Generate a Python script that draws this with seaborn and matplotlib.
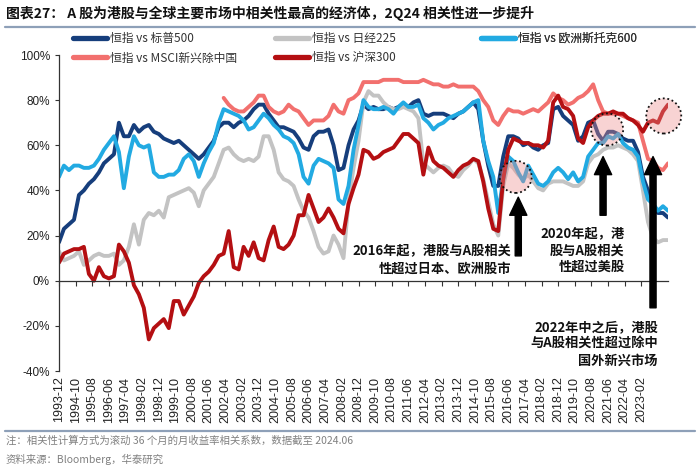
import pandas as pd
import matplotlib
matplotlib.use("Agg")
import matplotlib.pyplot as plt
import matplotlib.dates as mdates
import seaborn as sns
from matplotlib.patches import Ellipse
from matplotlib.lines import Line2D
from matplotlib.ticker import PercentFormatter, FixedLocator, FixedFormatter

# quarterly readings (%), 1993-12 .. 2024-06
dates = pd.date_range("1993-12-01", "2024-06-01", freq="3MS")

spx500 = [17, 23, 25, 27, 38, 40, 43, 45, 48, 52, 54, 56, 70, 64, 64, 69, 66, 68, 69, 66, 65, 63, 62, 61, 62, 60, 58, 56, 54, 56, 59, 62,
          68, 70, 70, 68, 70, 71, 73, 76, 78, 78, 74, 71, 68, 68, 67, 66, 63, 59, 58, 64, 66, 66, 67, 60, 49, 50, 60, 67, 71, 78, 76,
          77, 76, 76, 77, 76, 77, 78, 77, 79, 80, 74, 73, 74, 74, 74, 73, 72, 74, 75, 77, 79, 76, 62, 51, 42, 42, 55, 64, 64, 63, 60,
          61, 59, 58, 60, 61, 76, 77, 73, 71, 69, 62, 64, 70, 71, 65, 62, 66, 66, 65, 63, 62, 62, 57, 46, 40, 34, 30, 30, 28]
nikkei225 = [13, 9, 10, 11, 13, 7, 9, 11, 12, 11, 11, 12, 7, 9, 15, 25, 16, 27, 30, 29, 31, 28, 37, 38, 39, 40, 41, 39, 33, 40, 43, 46,
             52, 58, 59, 56, 54, 53, 54, 53, 55, 64, 64, 58, 48, 45, 44, 42, 36, 31, 28, 22, 15, 12, 13, 20, 16, 10, 35, 50, 62, 79, 84,
             82, 82, 79, 77, 76, 76, 77, 76, 75, 72, 52, 50, 48, 50, 51, 50, 47, 46, 49, 51, 54, 52, 45, 35, 25, 20, 42, 52, 50, 47, 45,
             47, 44, 41, 40, 43, 44, 44, 44, 43, 42, 42, 44, 52, 55, 56, 58, 59, 59, 60, 59, 58, 56, 53, 40, 26, 19, 17, 18, 18]
stoxx600 = [46, 51, 49, 51, 51, 50, 50, 51, 54, 58, 61, 64, 57, 41, 55, 64, 60, 59, 60, 48, 46, 46, 47, 47, 49, 54, 56, 53, 46, 52, 57, 61,
            70, 76, 75, 74, 73, 71, 67, 68, 71, 74, 72, 69, 67, 64, 63, 61, 56, 46, 43, 51, 54, 53, 52, 50, 36, 34, 42, 58, 69, 80, 77,
            76, 76, 77, 76, 74, 77, 79, 77, 77, 78, 72, 70, 67, 69, 70, 72, 73, 74, 75, 77, 79, 80, 62, 53, 46, 30, 45, 55, 53, 48, 44,
            51, 47, 43, 42, 44, 48, 50, 48, 45, 48, 44, 46, 55, 58, 61, 61, 64, 63, 65, 61, 59, 58, 55, 44, 36, 34, 31, 33, 31]
# MSCI EM ex China series starts 2002-03
msci_em_xc = [81, 78, 76, 75, 75, 77, 79, 82, 82, 77, 75, 74, 75, 78, 76, 75, 72, 69, 71, 71, 71, 73, 78, 75, 74, 80, 81, 83, 88, 88,
              88, 88, 89, 89, 89, 89, 88, 88, 88, 88, 89, 88, 87, 87, 86, 86, 87, 86, 86, 86, 86, 84, 80, 77, 71, 69, 73, 76, 75, 75, 74,
              75, 76, 75, 77, 79, 83, 81, 80, 78, 79, 81, 82, 84, 87, 80, 75, 74, 74, 74, 73, 72, 71, 70, 62, 54, 53, 50, 49, 52]
csi300 = [8, 12, 13, 14, 14, 15, 3, 0, 6, 2, 1, 2, 16, 13, 8, -2, -6, -12, -26, -21, -19, -17, -21, -9, -9, -15, -11, -7, -1, 2, 4, 7,
          11, 12, 22, 6, 5, 15, 11, 17, 10, 9, 18, 24, 15, 14, 16, 20, 29, 29, 38, 32, 26, 28, 32, 28, 23, 21, 34, 41, 47, 58, 57,
          54, 55, 57, 58, 59, 62, 65, 65, 63, 61, 47, 59, 53, 51, 50, 48, 46, 49, 51, 52, 54, 53, 44, 32, 23, 22, 45, 58, 63, 62, 61,
          61, 60, 60, 59, 62, 79, 82, 77, 76, 73, 63, 61, 68, 71, 73, 74, 74, 75, 74, 74, 72, 71, 69, 66, 70, 71, 70, 75, 78]

names = ["恒指 vs 标普500", "恒指 vs 日经225", "恒指 vs 欧洲斯托克600",
         "恒指 vs MSCI新兴除中国", "恒指 vs 沪深300"]
colors = ["#163E7C", "#C3C3C3", "#22AAE2", "#F2706E", "#B40F12"]

tick_dates = pd.date_range("1993-12-01", periods=36, freq="10MS")

sns.set_style("ticks")
plt.rcParams["font.family"] = ["Noto Sans CJK SC", "DejaVu Sans"]
plt.rcParams["axes.unicode_minus"] = False

fig = plt.figure(figsize=(7, 4.7), dpi=100)
ax = fig.add_axes([59 / 700, 1 - 371 / 470, (668 - 59) / 700, (371 - 55) / 470])

series = [
    (dates, spx500),
    (dates, nikkei225),
    (dates, stoxx600),
    (dates[len(dates) - len(msci_em_xc):], msci_em_xc),
    (dates, csi300),
]
handles = []
for (x, y), name, c in zip(series, names, colors):
    sns.lineplot(x=x, y=y, ax=ax, color=c, lw=2.8, legend=False)
    handles.append(Line2D([], [], color=c, lw=3.8, label=name))

ax.set_xlim(dates[0], dates[-1])
ax.set_ylim(-40, 100)
ax.set_xlabel("")
ax.set_ylabel("")
ax.yaxis.set_major_formatter(PercentFormatter(decimals=0))
ax.set_yticks(range(-40, 101, 20))

ax.xaxis.set_major_locator(FixedLocator(mdates.date2num(tick_dates)))
ax.xaxis.set_major_formatter(FixedFormatter([d.strftime("%Y-%m") for d in tick_dates]))
ax.tick_params(axis="y", labelsize=8.5, labelcolor="#222222", color="#333333", length=3,
               width=0.8, direction="out", labelfontfamily="Liberation Sans")
ax.tick_params(axis="x", bottom=False, top=True, labelbottom=True, labeltop=False,
               direction="in", length=3.5, width=0.8, pad=4, color="#333333",
               labelrotation=90, labelsize=9, labelcolor="#222222",
               labelfontfamily="Liberation Sans")

ax.spines["right"].set_visible(False)
ax.spines["bottom"].set_visible(False)
ax.spines["top"].set_position(("data", 0))
for s in ("top", "left"):
    ax.spines[s].set_color("#333333")
    ax.spines[s].set_linewidth(0.9)

# legend: three columns placed like the original
cols = [([0, 3], 73), ([1, 4], 275), ([2], 481)]
for idx, xpx in cols:
    leg = ax.legend(handles=[handles[i] for i in idx], loc="upper left",
                    bbox_to_anchor=(xpx / 700, 1 - 32 / 470), bbox_transform=fig.transFigure,
                    frameon=False, fontsize=8.5, handlelength=2.9, handletextpad=0.25,
                    labelspacing=0.55, borderpad=0, borderaxespad=0)
    for t in leg.get_texts():
        t.set_color("#333333")
    ax.add_artist(leg)

# highlight circles
day_per_px = 30.44 / 1.664
pct_per_px = 1 / 2.25
circles = [("2016-10-15", 46, 32), ("2021-05-15", 67, 32), ("2024-03-15", 73, 35)]
for d, v, diam in circles:
    e = Ellipse((mdates.date2num(pd.Timestamp(d)), v), width=diam * day_per_px,
                height=diam * pct_per_px, facecolor=(0.93, 0.55, 0.55, 0.38),
                edgecolor="#111111", linestyle=(0, (1, 1.5)), lw=1.3, zorder=5,
                clip_on=False)
    ax.add_patch(e)

# arrows
arrows = [("2016-12-01", 11, 37), ("2021-03-01", 29, 55), ("2023-09-01", -12, 55)]
for d, v0, v1 in arrows:
    x = mdates.date2num(pd.Timestamp(d))
    ax.annotate("", xy=(x, v1), xytext=(x, v0),
                arrowprops=dict(arrowstyle="simple,head_width=0.62,head_length=0.65,tail_width=0.22",
                                color="black", mutation_scale=20, shrinkA=0, shrinkB=0),
                zorder=6)

notes = [("2016-08-01", 16, "2016年起，港股与A股相关\n性超过日本、欧洲股市"),
         ("2022-04-01", 24, "2020年起，港\n股与A股相关\n性超过美股"),
         ("2023-12-01", -17.5, "2022年中之后，港股\n与A股相关性超过除中\n国外新兴市场")]
for d, v, txt in notes:
    ax.text(mdates.date2num(pd.Timestamp(d)), v, txt, ha="right", va="top",
            multialignment="right", fontsize=9.5, fontweight="bold", color="#111111",
            linespacing=1.25, zorder=7)

# title, rules and footnotes
fig.text(6 / 700, 1 - 13 / 470, "图表27： A 股为港股与全球主要市场中相关性最高的经济体，2Q24 相关性进一步提升",
         ha="left", va="center", fontsize=10, fontweight="bold", color="#111111")
fig.add_artist(Line2D([5 / 700, 695 / 700], [1 - 27 / 470] * 2, color="#8EA0B8", lw=1.6))
fig.add_artist(Line2D([5 / 700, 695 / 700], [1 - 431 / 470] * 2, color="#8EA0B8", lw=1.6))
fig.text(6 / 700, 1 - 441 / 470, "注：相关性计算方式为滚动 36 个月的月收益率相关系数，数据截至 2024.06",
         ha="left", va="center", fontsize=7.5, color="#808080")
fig.text(6 / 700, 1 - 459 / 470, "资料来源：Bloomberg，华泰研究",
         ha="left", va="center", fontsize=7.5, color="#808080")

fig.savefig("out.png", dpi=100)
